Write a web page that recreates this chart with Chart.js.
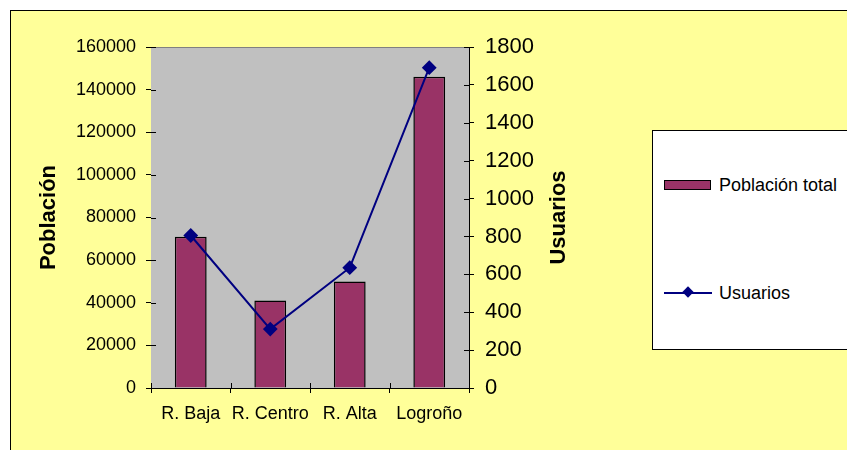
<!DOCTYPE html>
<html>
<head>
<meta charset="utf-8">
<script src="https://cdn.jsdelivr.net/npm/chart.js@4/dist/chart.umd.min.js"></script>
<style>
  body { margin: 0; background: #fff; font-family: "Liberation Sans", Arial, sans-serif; }
  #frame { position: absolute; left: 10px; top: 10px; width: 900px; height: 500px;
           background: #ffff99; border: 1px solid #000; }
  #wrap { position: absolute; left: 0; top: 0; width: 847px; height: 450px; }
  #legend { position: absolute; left: 652px; top: 130px; width: 250px; height: 218px;
            background: #fff; border: 1px solid #000; font-size: 18px; color: #000; }
  .item { position: absolute; left: 11px; height: 22px; }
  .item span { position: absolute; left: 55px; top: 0; line-height: 22px; white-space: nowrap; }
</style>
</head>
<body>
<div id="frame"></div>
<div id="wrap"><canvas id="chart" width="847" height="450"></canvas></div>
<div id="legend"></div>

<script>
// data
const categories = ["R. Baja", "R. Centro", "R. Alta", "Logroño"];
const poblacion = [71000, 41000, 50000, 146000];
const usuarios = [805, 311, 635, 1691];

const leftTitle = "Población";
const rightTitle = "Usuarios";

const barColor = "#993366";
const lineColor = "#000080";
const fontFamily = "'Liberation Sans', Arial, sans-serif";

/* plot background + inner half of tick marks + axis titles */
const plotDecor = {
  id: "plotDecor",
  beforeDatasetsDraw(chart) {
    const { ctx, chartArea: a } = chart;
    ctx.save();
    ctx.fillStyle = "#c0c0c0";
    ctx.fillRect(a.left, a.top, a.right - a.left, a.bottom - a.top);
    ctx.strokeStyle = "#808080";
    ctx.lineWidth = 1;
    ctx.beginPath();
    ctx.moveTo(a.left, a.top + 0.5);
    ctx.lineTo(a.right, a.top + 0.5);
    ctx.stroke();
    ctx.restore();
  },
  afterDraw(chart) {
    const { ctx, chartArea: a, scales } = chart;
    ctx.save();
    ctx.strokeStyle = "#000";
    ctx.lineWidth = 1;
    ctx.beginPath();
    scales.y.ticks.forEach(t => {
      const y = Math.round(scales.y.getPixelForValue(t.value)) + 0.5;
      ctx.moveTo(a.left, y); ctx.lineTo(a.left + 5, y);
    });
    scales.y1.ticks.forEach(t => {
      const y = Math.round(scales.y1.getPixelForValue(t.value)) + 0.5;
      ctx.moveTo(a.right - 5, y); ctx.lineTo(a.right, y);
    });
    const step = (a.right - a.left) / categories.length;
    for (let i = 0; i <= categories.length; i++) {
      const x = Math.round(a.left + i * step) + 0.5;
      ctx.moveTo(x, a.bottom - 5); ctx.lineTo(x, a.bottom);
    }
    ctx.stroke();

    // axis titles, both reading bottom to top
    ctx.fillStyle = "#000";
    ctx.font = "bold 22px " + fontFamily;
    ctx.textAlign = "center";
    ctx.textBaseline = "alphabetic";
    const midY = (a.top + a.bottom) / 2;
    [[leftTitle, 55], [rightTitle, 565]].forEach(([txt, x]) => {
      ctx.save();
      ctx.translate(x, midY);
      ctx.rotate(-Math.PI / 2);
      ctx.fillText(txt, 0, 0);
      ctx.restore();
    });
    ctx.restore();
  }
};

const plain = v => String(v);

const chart = new Chart(document.getElementById("chart"), {
  data: {
    labels: categories,
    datasets: [
      {
        type: "line",
        label: "Usuarios",
        data: usuarios,
        yAxisID: "y1",
        borderColor: lineColor,
        backgroundColor: lineColor,
        borderWidth: 2,
        pointStyle: "rectRot",
        pointRadius: 6,
        pointBackgroundColor: lineColor,
        pointBorderColor: lineColor,
        tension: 0,
        order: 0
      },
      {
        type: "bar",
        label: "Población total",
        data: poblacion,
        yAxisID: "y",
        backgroundColor: barColor,
        borderColor: "#000",
        borderWidth: 1.5,
        barPercentage: 0.4,
        categoryPercentage: 1,
        order: 1
      }
    ]
  },
  options: {
    responsive: false,
    animation: false,
    layout: { padding: { top: 47, right: 258, bottom: 0, left: 0 } },
    plugins: { legend: { display: false }, tooltip: { enabled: false } },
    scales: {
      x: {
        grid: { drawOnChartArea: false, color: "#000", tickLength: 5, offset: true },
        border: { color: "#000", width: 1 },
        ticks: { color: "#000", font: { family: fontFamily, size: 18 }, padding: 10, maxRotation: 0, autoSkip: false },
        afterFit(s) { s.height = 62; }
      },
      y: {
        position: "left",
        min: 0, max: 160000,
        grid: { drawOnChartArea: false, color: "#000", tickLength: 5 },
        border: { color: "#000", width: 1 },
        ticks: { stepSize: 20000, color: "#000", font: { family: fontFamily, size: 18 }, padding: 10, callback: plain },
        afterFit(s) { s.width = 151; }
      },
      y1: {
        position: "right",
        min: 0, max: 1800,
        grid: { drawOnChartArea: false, color: "#000", tickLength: 5 },
        border: { color: "#000", width: 1 },
        ticks: { stepSize: 200, color: "#000", font: { family: fontFamily, size: 22 }, padding: 11, callback: plain },
        afterFit(s) { s.width = 120; }
      }
    }
  },
  plugins: [plotDecor]
});

/* legend built from the datasets */
const legend = document.getElementById("legend");
const barDs = chart.data.datasets[1];
const lineDs = chart.data.datasets[0];

let item = document.createElement("div");
item.className = "item";
item.style.top = "43px";
item.innerHTML = `<div style="position:absolute;left:0;top:6px;width:45px;height:8px;background:${barDs.backgroundColor};border:1px solid #000"></div><span>${barDs.label}</span>`;
legend.appendChild(item);

item = document.createElement("div");
item.className = "item";
item.style.top = "151px";
item.innerHTML = `<div style="position:absolute;left:0;top:10px;width:48px;height:2px;background:${lineDs.borderColor}"></div>` +
  `<div style="position:absolute;left:20px;top:6px;width:8px;height:8px;background:${lineDs.borderColor};transform:rotate(45deg)"></div><span>${lineDs.label}</span>`;
legend.appendChild(item);
</script>
</body>
</html>
